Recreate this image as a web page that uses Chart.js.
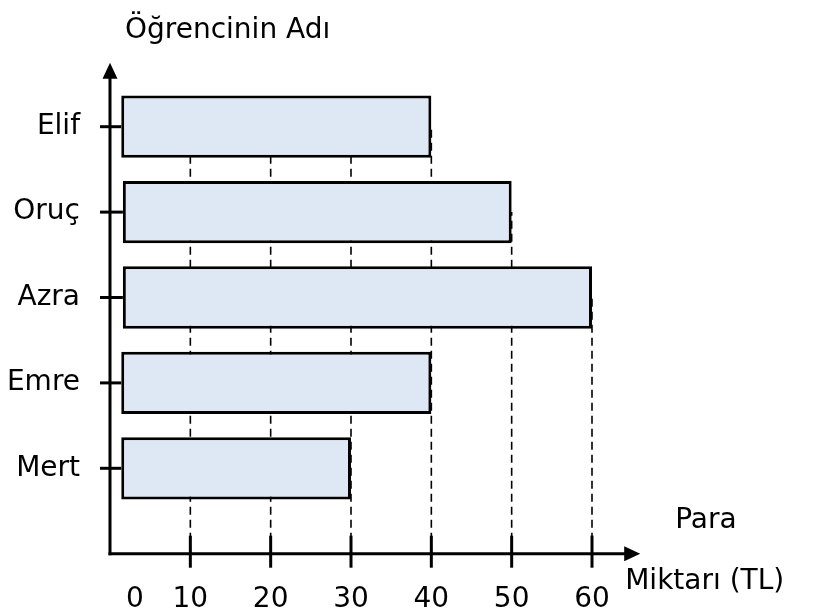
<!DOCTYPE html>
<html>
<head>
<meta charset="utf-8">
<title>Öğrencinin Adı</title>
<script src="https://cdn.jsdelivr.net/npm/chart.js@4/dist/chart.umd.min.js"></script>
<style>
  html, body { margin: 0; padding: 0; background: #fff; }
  #wrap { width: 817px; height: 614px; position: relative; }
</style>
</head>
<body>
<div id="wrap"><canvas id="mychart"></canvas></div>
<script>
// veriler
var names = ['Elif', 'Oruç', 'Azra', 'Emre', 'Mert'];
var amounts = [40, 50, 60, 40, 30];
var barStart = [1.4, 1.6, 1.6, 1.4, 1.4]; // çubuklar eksenden biraz içeride başlıyor
var xTicks = [0, 10, 20, 30, 40, 50, 60];
var yTitle = 'Öğrencinin Adı';
var xTitle1 = 'Para';
var xTitle2 = 'Miktarı (TL)';

var FONT = 'DejaVu Sans';

var floating = [];
for (var i = 0; i < names.length; i++) {
    floating.push([barStart[i], amounts[i]]);
}

// eksenler, oklar, kesikli çizgiler
var axesPlugin = {
    id: 'axesPlugin',
    beforeDatasetsDraw: function(chart) {
        var ctx = chart.ctx, x = chart.scales.x, y = chart.scales.y;
        var band = y.getPixelForValue(1) - y.getPixelForValue(0);
        var axisY = y.getPixelForValue(names.length - 1) + band;
        ctx.save();
        ctx.strokeStyle = '#000';
        ctx.lineWidth = 1.6;
        ctx.setLineDash([8, 5]);
        for (var t = 1; t < xTicks.length; t++) {
            var v = xTicks[t];
            var top = -1;
            for (var k = 0; k < amounts.length; k++) {
                if (amounts[k] >= v) { top = k; break; }
            }
            if (top < 0) continue;
            var px = x.getPixelForValue(v);
            ctx.beginPath();
            ctx.moveTo(px, axisY);
            ctx.lineTo(px, y.getPixelForValue(top));
            ctx.stroke();
        }
        ctx.restore();
    },
    afterDatasetsDraw: function(chart) {
        var ctx = chart.ctx, x = chart.scales.x, y = chart.scales.y;
        var band = y.getPixelForValue(1) - y.getPixelForValue(0);
        var axisY = y.getPixelForValue(names.length - 1) + band;
        var axisX = x.getPixelForValue(0);
        var yTop = y.getPixelForValue(0) - band * 0.75;
        var xEnd = x.getPixelForValue(xTicks[xTicks.length - 1] * 1.1);
        ctx.save();
        ctx.strokeStyle = '#000';
        ctx.fillStyle = '#000';
        ctx.lineWidth = 3;
        ctx.setLineDash([]);
        // y ekseni
        ctx.beginPath();
        ctx.moveTo(axisX, axisY + 1.5);
        ctx.lineTo(axisX, yTop + 12);
        ctx.stroke();
        ctx.beginPath();
        ctx.moveTo(axisX, yTop);
        ctx.lineTo(axisX - 7.5, yTop + 16);
        ctx.lineTo(axisX + 7.5, yTop + 16);
        ctx.closePath();
        ctx.fill();
        // x ekseni
        ctx.beginPath();
        ctx.moveTo(axisX - 1.5, axisY);
        ctx.lineTo(xEnd - 12, axisY);
        ctx.stroke();
        ctx.beginPath();
        ctx.moveTo(xEnd, axisY);
        ctx.lineTo(xEnd - 16, axisY - 7.5);
        ctx.lineTo(xEnd - 16, axisY + 7.5);
        ctx.closePath();
        ctx.fill();
        // x çentikleri
        for (var t = 1; t < xTicks.length; t++) {
            var px = x.getPixelForValue(xTicks[t]);
            ctx.beginPath();
            ctx.moveTo(px, axisY - 18);
            ctx.lineTo(px, axisY + 14);
            ctx.stroke();
        }
        // y çentikleri
        for (var i = 0; i < names.length; i++) {
            var py = y.getPixelForValue(i);
            ctx.beginPath();
            ctx.moveTo(axisX - 10, py);
            ctx.lineTo(x.getPixelForValue(barStart[i]), py);
            ctx.stroke();
        }
        // x etiketleri
        ctx.font = '28px "' + FONT + '"';
        ctx.textAlign = 'center';
        ctx.textBaseline = 'middle';
        for (var t = 0; t < xTicks.length; t++) {
            var lx = x.getPixelForValue(xTicks[t]);
            if (xTicks[t] === 0) lx += 25; // 0 eksenin biraz sağında
            ctx.fillText(String(xTicks[t]), lx, axisY + 46);
        }
        // başlıklar
        ctx.textAlign = 'left';
        ctx.textBaseline = 'alphabetic';
        ctx.fillText(yTitle, axisX + 15, 38);
        ctx.fillText(xTitle1, xEnd + 35, axisY - 26);
        ctx.fillText(xTitle2, xEnd - 15, axisY + 35);
        ctx.restore();
    }
};

var config = {
    type: 'bar',
    data: {
        labels: names,
        datasets: [{
            data: floating,
            backgroundColor: '#DEE8F4',
            borderColor: '#000',
            borderWidth: 3,
            borderSkipped: false,
            categoryPercentage: 1,
            barPercentage: 0.73
        }]
    },
    options: {
        indexAxis: 'y',
        responsive: true,
        maintainAspectRatio: false,
        animation: false,
        layout: {
            padding: { left: 6, right: 225, top: 84, bottom: 103 }
        },
        plugins: {
            legend: { display: false },
            tooltip: { enabled: false },
            title: { display: false }
        },
        scales: {
            x: {
                display: false,
                min: 0,
                max: 60
            },
            y: {
                display: true,
                afterFit: function(scale) { scale.width = 104; },
                grid: { display: false, drawTicks: false },
                border: { display: false },
                ticks: {
                    padding: 30,
                    color: '#000',
                    font: { family: FONT, size: 28 }
                }
            }
        }
    },
    plugins: [axesPlugin]
};

var ctx = document.getElementById('mychart').getContext('2d');
window.myBar = new Chart(ctx, config);
</script>
</body>
</html>
